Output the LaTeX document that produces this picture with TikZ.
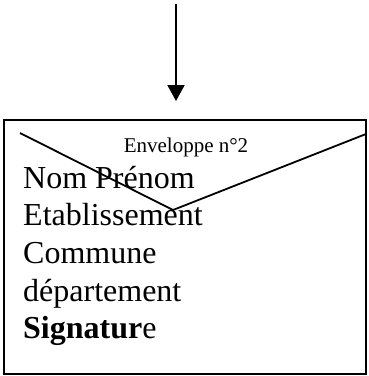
\documentclass[tikz,border=0pt]{standalone}
\usepackage{fontspec}
\setmainfont{Liberation Serif}
\usetikzlibrary{arrows.meta}
\begin{document}
\begin{tikzpicture}[x=1pt,y=-1pt,
  bigtext/.style={anchor=base west,inner sep=0pt,font=\fontsize{32}{36}\selectfont},
  smalltext/.style={anchor=base,inner sep=0pt,font=\fontsize{21}{24}\selectfont},
  frame/.style={draw=black,line width=2pt},
  flap/.style={draw=black,line width=1.8pt,line join=miter},
  arrowline/.style={draw=black,line width=2pt,-{Triangle[width=17pt,length=16pt]}}]
\useasboundingbox (0,0) rectangle (369,376);
\coordinate (astart) at (176,4);
\coordinate (aend) at (176,101);
\draw[arrowline] (astart) -- (aend);
\node[draw=none,minimum width=362pt,minimum height=254pt,inner sep=0pt,anchor=north west] (env) at (4,120) {};
\draw[frame] (env.north west) rectangle (env.south east);
\coordinate (fl) at (20,133);
\coordinate (fm) at (173,210);
\coordinate (fr) at (366,134);
\draw[flap] (fl) -- (fm) -- (fr);
\node[smalltext] (title) at (186,152) {Enveloppe n°2};
\node[bigtext] (l1) at (23,188) {Nom Prénom};
\node[bigtext] (l2) at (23,225) {Etablissement};
\node[bigtext] (l3) at (23,263) {Commune};
\node[bigtext] (l4) at (23,301) {département};
\node[bigtext] (l5) at (23,338) {\textbf{Signatur}e};
\end{tikzpicture}
\end{document}
